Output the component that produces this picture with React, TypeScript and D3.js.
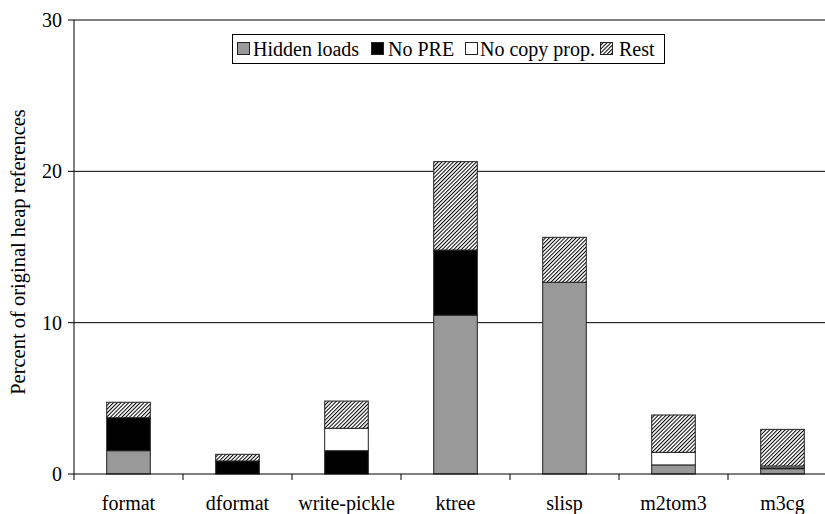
import React from 'react';
import * as d3 from 'd3';

const categories = ['format', 'dformat', 'write-pickle', 'ktree', 'slisp', 'm2tom3', 'm3cg'];
const hiddenLoads = [1.54, 0, 0, 10.5, 12.67, 0.6, 0.35];
const noPRE = [2.18, 0.86, 1.54, 4.3, 0, 0, 0.06];
const noCopyProp = [0, 0, 1.48, 0, 0, 0.83, 0.12];
const rest = [1.02, 0.44, 1.8, 5.84, 2.97, 2.47, 2.42];
const seriesNames = ['Hidden loads', 'No PRE', 'No copy prop.', 'Rest'];
const yTicks = [0, 10, 20, 30];

const W = 825, H = 514;
const left = 74, right = 837, top = 20, bottom = 474;
const FONT = '"Liberation Serif", "Times New Roman", serif';

export default function App() {
  const x = d3.scaleBand<string>().domain(categories).range([left, right]).paddingInner(0.6).paddingOuter(0.3);
  const y = d3.scaleLinear().domain([0, 30]).range([bottom, top]);
  const series = [hiddenLoads, noPRE, noCopyProp, rest];
  const fills = ['#999999', '#000000', '#ffffff', 'url(#hatch)'];
  const table = categories.map((c, i) => {
    const row: any = { cat: c };
    seriesNames.forEach((s, k) => (row[s] = series[k][i]));
    return row;
  });
  const stacked = d3.stack<any>().keys(seriesNames)(table);
  const step = x.step();
  const boundaries = d3.range(categories.length + 1).map((i) => left + i * step);

  const legendX = [237, 371, 465, 600];
  const legendTextX = [253, 388, 480, 619];

  return (
    <svg width={W} height={H} style={{ position: 'absolute', left: 0, top: 0, background: '#fff' }}>
      <defs>
        <pattern id="hatch" patternUnits="userSpaceOnUse" width="2.7" height="2.7" patternTransform="rotate(45)">
          <rect width="2.7" height="2.7" fill="#fff" />
          <line x1="0.5" y1="0" x2="0.5" y2="2.7" stroke="#000" strokeWidth="1" />
        </pattern>
      </defs>
      {/* gridlines */}
      {yTicks.filter((t) => t > 0).map((t) => (
        <line key={t} x1={left} x2={right} y1={y(t)} y2={y(t)} stroke="#000" strokeWidth={1} />
      ))}
      {/* bars */}
      {stacked.map((layer, k) => (
        <g key={layer.key}>
          {layer.map((d, i) =>
            d[1] - d[0] > 0 ? (
              <rect
                key={i}
                x={x(categories[i])}
                width={x.bandwidth()}
                y={y(d[1])}
                height={y(d[0]) - y(d[1])}
                fill={fills[k]}
                stroke="#222"
                strokeWidth={1}
              />
            ) : null
          )}
        </g>
      ))}
      {/* axes */}
      <line x1={left} x2={left} y1={top} y2={bottom} stroke="#000" />
      <line x1={left} x2={right} y1={bottom} y2={bottom} stroke="#000" />
      {yTicks.map((t) => (
        <g key={t}>
          <line x1={left - 6} x2={left} y1={y(t)} y2={y(t)} stroke="#000" />
          <text x={62} y={y(t)} dy="0.35em" textAnchor="end" fontFamily={FONT} fontSize={20}>
            {t}
          </text>
        </g>
      ))}
      {boundaries.map((b, i) => (
        <line key={i} x1={b} x2={b} y1={bottom} y2={bottom + 6} stroke="#000" />
      ))}
      {categories.map((c) => (
        <text key={c} x={(x(c) as number) + x.bandwidth() / 2} y={510} textAnchor="middle" fontFamily={FONT} fontSize={20}>
          {c}
        </text>
      ))}
      <text
        transform={`translate(25, 252) rotate(-90)`}
        textAnchor="middle"
        fontFamily={FONT}
        fontSize={20.5}
      >
        Percent of original heap references
      </text>
      {/* legend */}
      <rect x={232.5} y={34.5} width={432} height={29} fill="#fff" stroke="#000" />
      {seriesNames.map((s, k) => (
        <g key={s}>
          <rect x={legendX[k] + 0.5} y={42.5} width={12} height={12} fill={fills[k]} stroke="#222" />
          <text x={legendTextX[k]} y={55.5} fontFamily={FONT} fontSize={20}>
            {s}
          </text>
        </g>
      ))}
    </svg>
  );
}
